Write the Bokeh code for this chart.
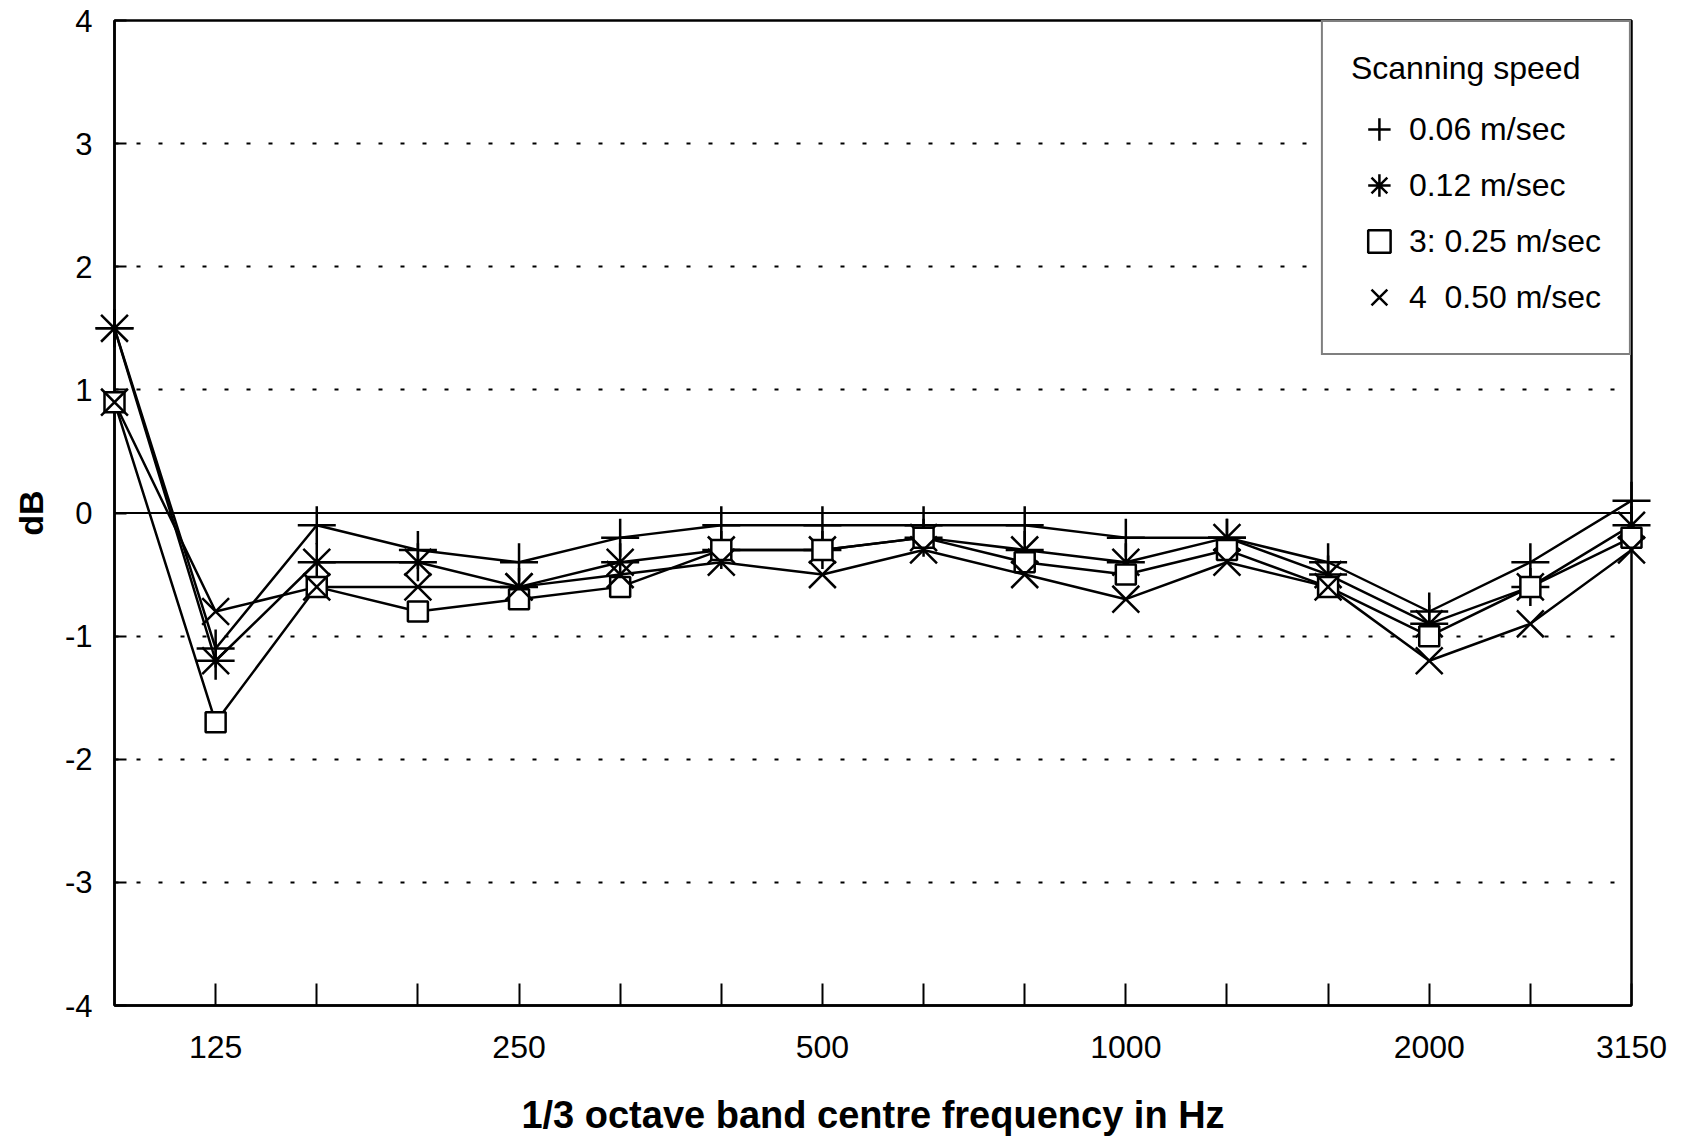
from bokeh.plotting import figure
from bokeh.models import FixedTicker, Legend, LegendItem, Span, Range1d
from bokeh.embed import file_html
from bokeh.resources import INLINE

# 1/3 octave band centre frequencies (Hz), plotted at equal spacing
freqs = ["100", "125", "160", "200", "250", "315", "400", "500",
         "630", "800", "1000", "1250", "1600", "2000", "2500", "3150"]
labelled_freqs = ["125", "250", "500", "1000", "2000", "3150"]

# dB deviations per scanning speed
speed_006 = [1.5, -1.1, -0.1, -0.3, -0.4, -0.2, -0.1, -0.1, -0.1, -0.1, -0.2, -0.2, -0.4, -0.8, -0.4, 0.1]
speed_012 = [1.5, -1.2, -0.4, -0.4, -0.6, -0.4, -0.3, -0.3, -0.2, -0.3, -0.4, -0.2, -0.5, -0.9, -0.6, -0.1]
speed_025 = [0.9, -1.7, -0.6, -0.8, -0.7, -0.6, -0.3, -0.3, -0.2, -0.4, -0.5, -0.3, -0.6, -1.0, -0.6, -0.2]
speed_050 = [0.9, -0.8, -0.6, -0.6, -0.6, -0.5, -0.4, -0.5, -0.3, -0.5, -0.7, -0.4, -0.6, -1.2, -0.9, -0.3]

series_labels = ["0.06 m/sec", "0.12 m/sec", "3: 0.25 m/sec", "4  0.50 m/sec"]
y_ticks = [-4, -3, -2, -1, 0, 1, 2, 3, 4]

FONT = "Liberation Sans"
x = list(range(len(freqs)))

p = figure(width=1690, height=1138,
           x_range=Range1d(0, len(freqs) - 1), y_range=Range1d(-4, 4),
           output_backend="svg", toolbar_location=None,
           min_border_left=114, min_border_right=59,
           min_border_top=20, min_border_bottom=133)

p.outline_line_color = "black"
p.outline_line_width = 2.5
p.background_fill_color = "white"
p.border_fill_color = "white"

# x axis
p.xaxis.ticker = FixedTicker(ticks=list(range(1, len(freqs))))
p.xaxis.major_label_overrides = {i: (f if f in labelled_freqs else "") for i, f in enumerate(freqs)}
p.xaxis.major_tick_in = 22
p.xaxis.major_tick_out = 0
p.xaxis.major_tick_line_width = 2
p.xaxis.major_tick_line_color = "black"
p.xaxis.minor_tick_line_color = None
p.xaxis.axis_line_width = 2.5
p.xaxis.axis_line_color = "black"
p.xaxis.major_label_text_font = FONT
p.xaxis.major_label_text_font_size = "32px"
p.xaxis.major_label_text_color = "black"
p.xaxis.major_label_standoff = 30
p.xaxis.axis_label = "1/3 octave band centre frequency in Hz"
p.xaxis.axis_label_text_font = FONT
p.xaxis.axis_label_text_font_size = "38px"
p.xaxis.axis_label_text_font_style = "bold"
p.xaxis.axis_label_text_color = "black"
p.xaxis.axis_label_standoff = 33

# y axis
p.yaxis.ticker = FixedTicker(ticks=y_ticks)
p.yaxis.major_label_overrides = {t: str(t) for t in y_ticks}
p.yaxis.major_tick_in = 12
p.yaxis.major_tick_out = 0
p.yaxis.major_tick_line_width = 2
p.yaxis.minor_tick_line_color = None
p.yaxis.axis_line_width = 2.5
p.yaxis.axis_line_color = "black"
p.yaxis.major_label_text_font = FONT
p.yaxis.major_label_text_font_size = "31px"
p.yaxis.major_label_text_color = "black"
p.yaxis.major_label_standoff = 22
p.yaxis.axis_label = "dB"
p.yaxis.axis_label_text_font = FONT
p.yaxis.axis_label_text_font_size = "34px"
p.yaxis.axis_label_text_font_style = "bold"
p.yaxis.axis_label_text_color = "black"
p.yaxis.axis_label_standoff = 12

# grid
p.xgrid.visible = False
p.ygrid.ticker = FixedTicker(ticks=[t for t in y_ticks if t not in (-4, 0, 4)])
p.ygrid.grid_line_color = "black"
p.ygrid.grid_line_width = 2
p.ygrid.grid_line_dash = "4 18"

p.add_layout(Span(location=0, dimension="width", line_color="black", line_width=2.2))

series = [speed_006, speed_012, speed_025, speed_050]
markers = ["cross", "asterisk", "square", "x"]
sizes = [38, 38, 20, 38]

scatter_renderers = []
for vals in series:
    p.line(x, vals, line_color="black", line_width=2.5)
for vals, m, s in zip(series, markers, sizes):
    r = p.scatter(x, vals, marker=m, size=s, line_color="black", line_width=2.5,
                  fill_color="white", level="overlay")
    scatter_renderers.append(r)

legend = Legend(
    items=[LegendItem(label=lab, renderers=[r]) for lab, r in zip(series_labels, scatter_renderers)],
    title="Scanning speed",
    location="top_right",
    margin=0,
    padding=28,
    border_line_color="black",
    border_line_width=2.5,
    background_fill_color="white",
    background_fill_alpha=1.0,
    label_text_font=FONT,
    label_text_font_size="32px",
    label_text_color="black",
    title_text_font=FONT,
    title_text_font_size="32px",
    title_text_font_style="normal",
    title_text_color="black",
    title_standoff=14,
    glyph_width=56,
    glyph_height=56,
    label_height=56,
    spacing=0,
    label_standoff=2,
)
p.add_layout(legend)

open("out.html", "w").write(file_html(p, INLINE))
